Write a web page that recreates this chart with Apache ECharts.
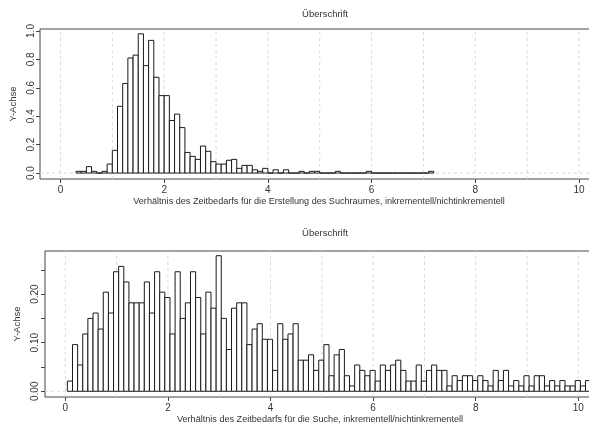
<!DOCTYPE html>
<html>
<head>
<meta charset="utf-8">
<script src="https://cdn.jsdelivr.net/npm/echarts@6/dist/echarts.min.js"></script>
<style>
  html, body { margin: 0; padding: 0; background: #fff; }
  #chart { width: 589px; height: 425px; }
</style>
</head>
<body>
<div id="chart"></div>
<script>
// Titles and axis names
const panelTitle = 'Überschrift';
const buildXName = 'Verhältnis des Zeitbedarfs für die Erstellung des Suchraumes, inkrementell/nichtinkrementell';
const searchXName = 'Verhältnis des Zeitbedarfs für die Suche, inkrementell/nichtinkrementell';
const yName = 'Y-Achse';

// Histogram of the search-space construction ratio (density per 0.1 bin)
const buildBinStart = 0.3;
const buildBinWidth = 0.1;
const buildDensity = [
  0.012, 0.012, 0.045, 0.012, 0.000, 0.012, 0.063, 0.160, 0.470, 0.630,
  0.810, 0.830, 0.980, 0.756, 0.934, 0.674, 0.545, 0.545, 0.370, 0.415,
  0.320, 0.145, 0.117, 0.096, 0.190, 0.153, 0.080, 0.063, 0.063, 0.090,
  0.096, 0.033, 0.054, 0.054, 0.023, 0.012, 0.033, 0.000, 0.023, 0.000,
  0.023, 0.000, 0.000, 0.012, 0.000, 0.012, 0.012, 0.000, 0.000, 0.000,
  0.012, 0.000, 0.000, 0.000, 0.000, 0.000, 0.012, 0.000, 0.000, 0.000,
  0.000, 0.000, 0.000, 0.000, 0.000, 0.000, 0.000, 0.000, 0.012
];

// Histogram of the search ratio (density per 0.1 bin)
const searchBinStart = 0.04;
const searchBinWidth = 0.1;
const searchDensity = [
  0.021, 0.096, 0.054, 0.118, 0.150, 0.161, 0.128, 0.204, 0.161, 0.246,
  0.257, 0.225, 0.182, 0.182, 0.182, 0.225, 0.161, 0.246, 0.204, 0.193,
  0.118, 0.246, 0.150, 0.182, 0.246, 0.193, 0.118, 0.204, 0.171, 0.279,
  0.150, 0.086, 0.171, 0.182, 0.182, 0.096, 0.128, 0.139, 0.107, 0.107,
  0.043, 0.139, 0.107, 0.118, 0.139, 0.064, 0.064, 0.075, 0.043, 0.064,
  0.096, 0.032, 0.075, 0.086, 0.032, 0.011, 0.054, 0.043, 0.032, 0.043,
  0.021, 0.054, 0.043, 0.054, 0.064, 0.043, 0.021, 0.021, 0.054, 0.021,
  0.043, 0.054, 0.043, 0.043, 0.011, 0.032, 0.022, 0.032, 0.032, 0.022,
  0.032, 0.022, 0.011, 0.043, 0.022, 0.043, 0.011, 0.022, 0.011, 0.032,
  0.011, 0.032, 0.032, 0.011, 0.022, 0.011, 0.022, 0.011, 0.011, 0.022,
  0.011, 0.022
];

// Ticks and reference lines
const xTickValues = [0, 2, 4, 6, 8, 10];
const xGridValues = [0, 1, 2, 3, 4, 5, 6, 7, 8, 9, 10];
const buildYTicks = [0, 0.2, 0.4, 0.6, 0.8, 1.0];
const searchYTicks = [0, 0.05, 0.10, 0.15, 0.20, 0.25];
const searchYLabels = [0, 0.10, 0.20];

// Visible axis extents
const buildXRange = [-0.395, 10.367];
const buildYRange = [-0.042, 1.014];
const searchXRange = [-0.396, 10.325];
const searchYRange = [-0.0118, 0.2887];

const ink = '#333';
const frame = '#444';
const font = 'Liberation Sans, Arial, sans-serif';

function binData(start, width, values) {
  return values.map((h, i) => [start + i * width, start + (i + 1) * width, h]);
}

function renderBar(params, api) {
  const a = api.coord([api.value(0), 0]);
  const b = api.coord([api.value(1), api.value(2)]);
  return {
    type: 'rect',
    shape: { x: a[0], y: b[1], width: b[0] - a[0], height: a[1] - b[1] },
    style: { fill: '#fff', stroke: '#1a1a1a', lineWidth: 1 }
  };
}

function gridRenderer(xr, yr) {
  return function (params, api) {
    const kind = api.value(0);
    const v = api.value(1);
    let p0, p1;
    if (kind === 0) {
      p0 = api.coord([v, yr[0]]);
      p1 = api.coord([v, yr[1]]);
    } else {
      p0 = api.coord([xr[0], v]);
      p1 = api.coord([xr[1], v]);
    }
    return {
      type: 'line',
      shape: { x1: p0[0], y1: p0[1], x2: p1[0], y2: p1[1] },
      style: { stroke: '#d9d9d9', lineWidth: 1, lineDash: [3, 3] }
    };
  };
}

function gridLines() {
  return xGridValues.map(v => [0, v]).concat([[1, 0]]);
}

function xAxisCfg(idx, range, name, gap) {
  return {
    type: 'value', gridIndex: idx, min: range[0], max: range[1],
    name: name, nameLocation: 'middle', nameGap: gap,
    nameTextStyle: { color: ink, fontSize: 9.1, fontFamily: font },
    axisLine: { show: false, onZero: false },
    axisTick: { show: true, length: 4, customValues: xTickValues, lineStyle: { color: frame } },
    axisLabel: { customValues: xTickValues, color: ink, fontSize: 10, fontFamily: font, margin: 6 },
    splitLine: { show: false }
  };
}

function yAxisCfg(idx, range, ticks, labels, digits, gap, margin) {
  return {
    type: 'value', gridIndex: idx, min: range[0], max: range[1],
    name: yName, nameLocation: 'middle', nameGap: gap, nameRotate: 90,
    nameTextStyle: { color: ink, fontSize: 9.5, fontFamily: font },
    axisLine: { show: false, onZero: false },
    axisTick: { show: true, length: 4, customValues: ticks, lineStyle: { color: frame } },
    axisLabel: {
      customValues: labels, rotate: 90, color: ink, fontSize: 10, fontFamily: font, margin: margin,
      formatter: v => Number(v).toFixed(digits)
    },
    splitLine: { show: false }
  };
}

const chart = echarts.init(document.getElementById('chart'), null, { renderer: 'canvas' });
chart.setOption({
  backgroundColor: '#fff',
  animation: false,
  title: [
    { text: panelTitle, left: 320, top: 4, textAlign: 'center',
      textStyle: { color: ink, fontSize: 9.5, fontWeight: 'normal', fontFamily: font } },
    { text: panelTitle, left: 320, top: 223, textAlign: 'center',
      textStyle: { color: ink, fontSize: 9.5, fontWeight: 'normal', fontFamily: font } }
  ],
  grid: [
    { left: 40, top: 29, width: 558, height: 150, outerBoundsMode: 'none', containLabel: false,
      show: true, borderColor: frame, borderWidth: 1, backgroundColor: 'transparent' },
    { left: 45, top: 251, width: 550, height: 146, outerBoundsMode: 'none', containLabel: false,
      show: true, borderColor: frame, borderWidth: 1, backgroundColor: 'transparent' }
  ],
  xAxis: [
    xAxisCfg(0, buildXRange, buildXName, 18),
    xAxisCfg(1, searchXRange, searchXName, 18)
  ],
  yAxis: [
    yAxisCfg(0, buildYRange, buildYTicks, buildYTicks, 1, 18, 4),
    yAxisCfg(1, searchYRange, searchYTicks, searchYLabels, 2, 20, 5)
  ],
  series: [
    { type: 'custom', xAxisIndex: 0, yAxisIndex: 0, z: 1, silent: true,
      renderItem: gridRenderer(buildXRange, buildYRange), data: gridLines() },
    { type: 'custom', xAxisIndex: 0, yAxisIndex: 0, z: 2, silent: true,
      renderItem: renderBar, encode: { x: [0, 1], y: 2 },
      data: binData(buildBinStart, buildBinWidth, buildDensity) },
    { type: 'custom', xAxisIndex: 1, yAxisIndex: 1, z: 1, silent: true,
      renderItem: gridRenderer(searchXRange, searchYRange), data: gridLines() },
    { type: 'custom', xAxisIndex: 1, yAxisIndex: 1, z: 2, silent: true,
      renderItem: renderBar, encode: { x: [0, 1], y: 2 },
      data: binData(searchBinStart, searchBinWidth, searchDensity) }
  ]
});
</script>
</body>
</html>
